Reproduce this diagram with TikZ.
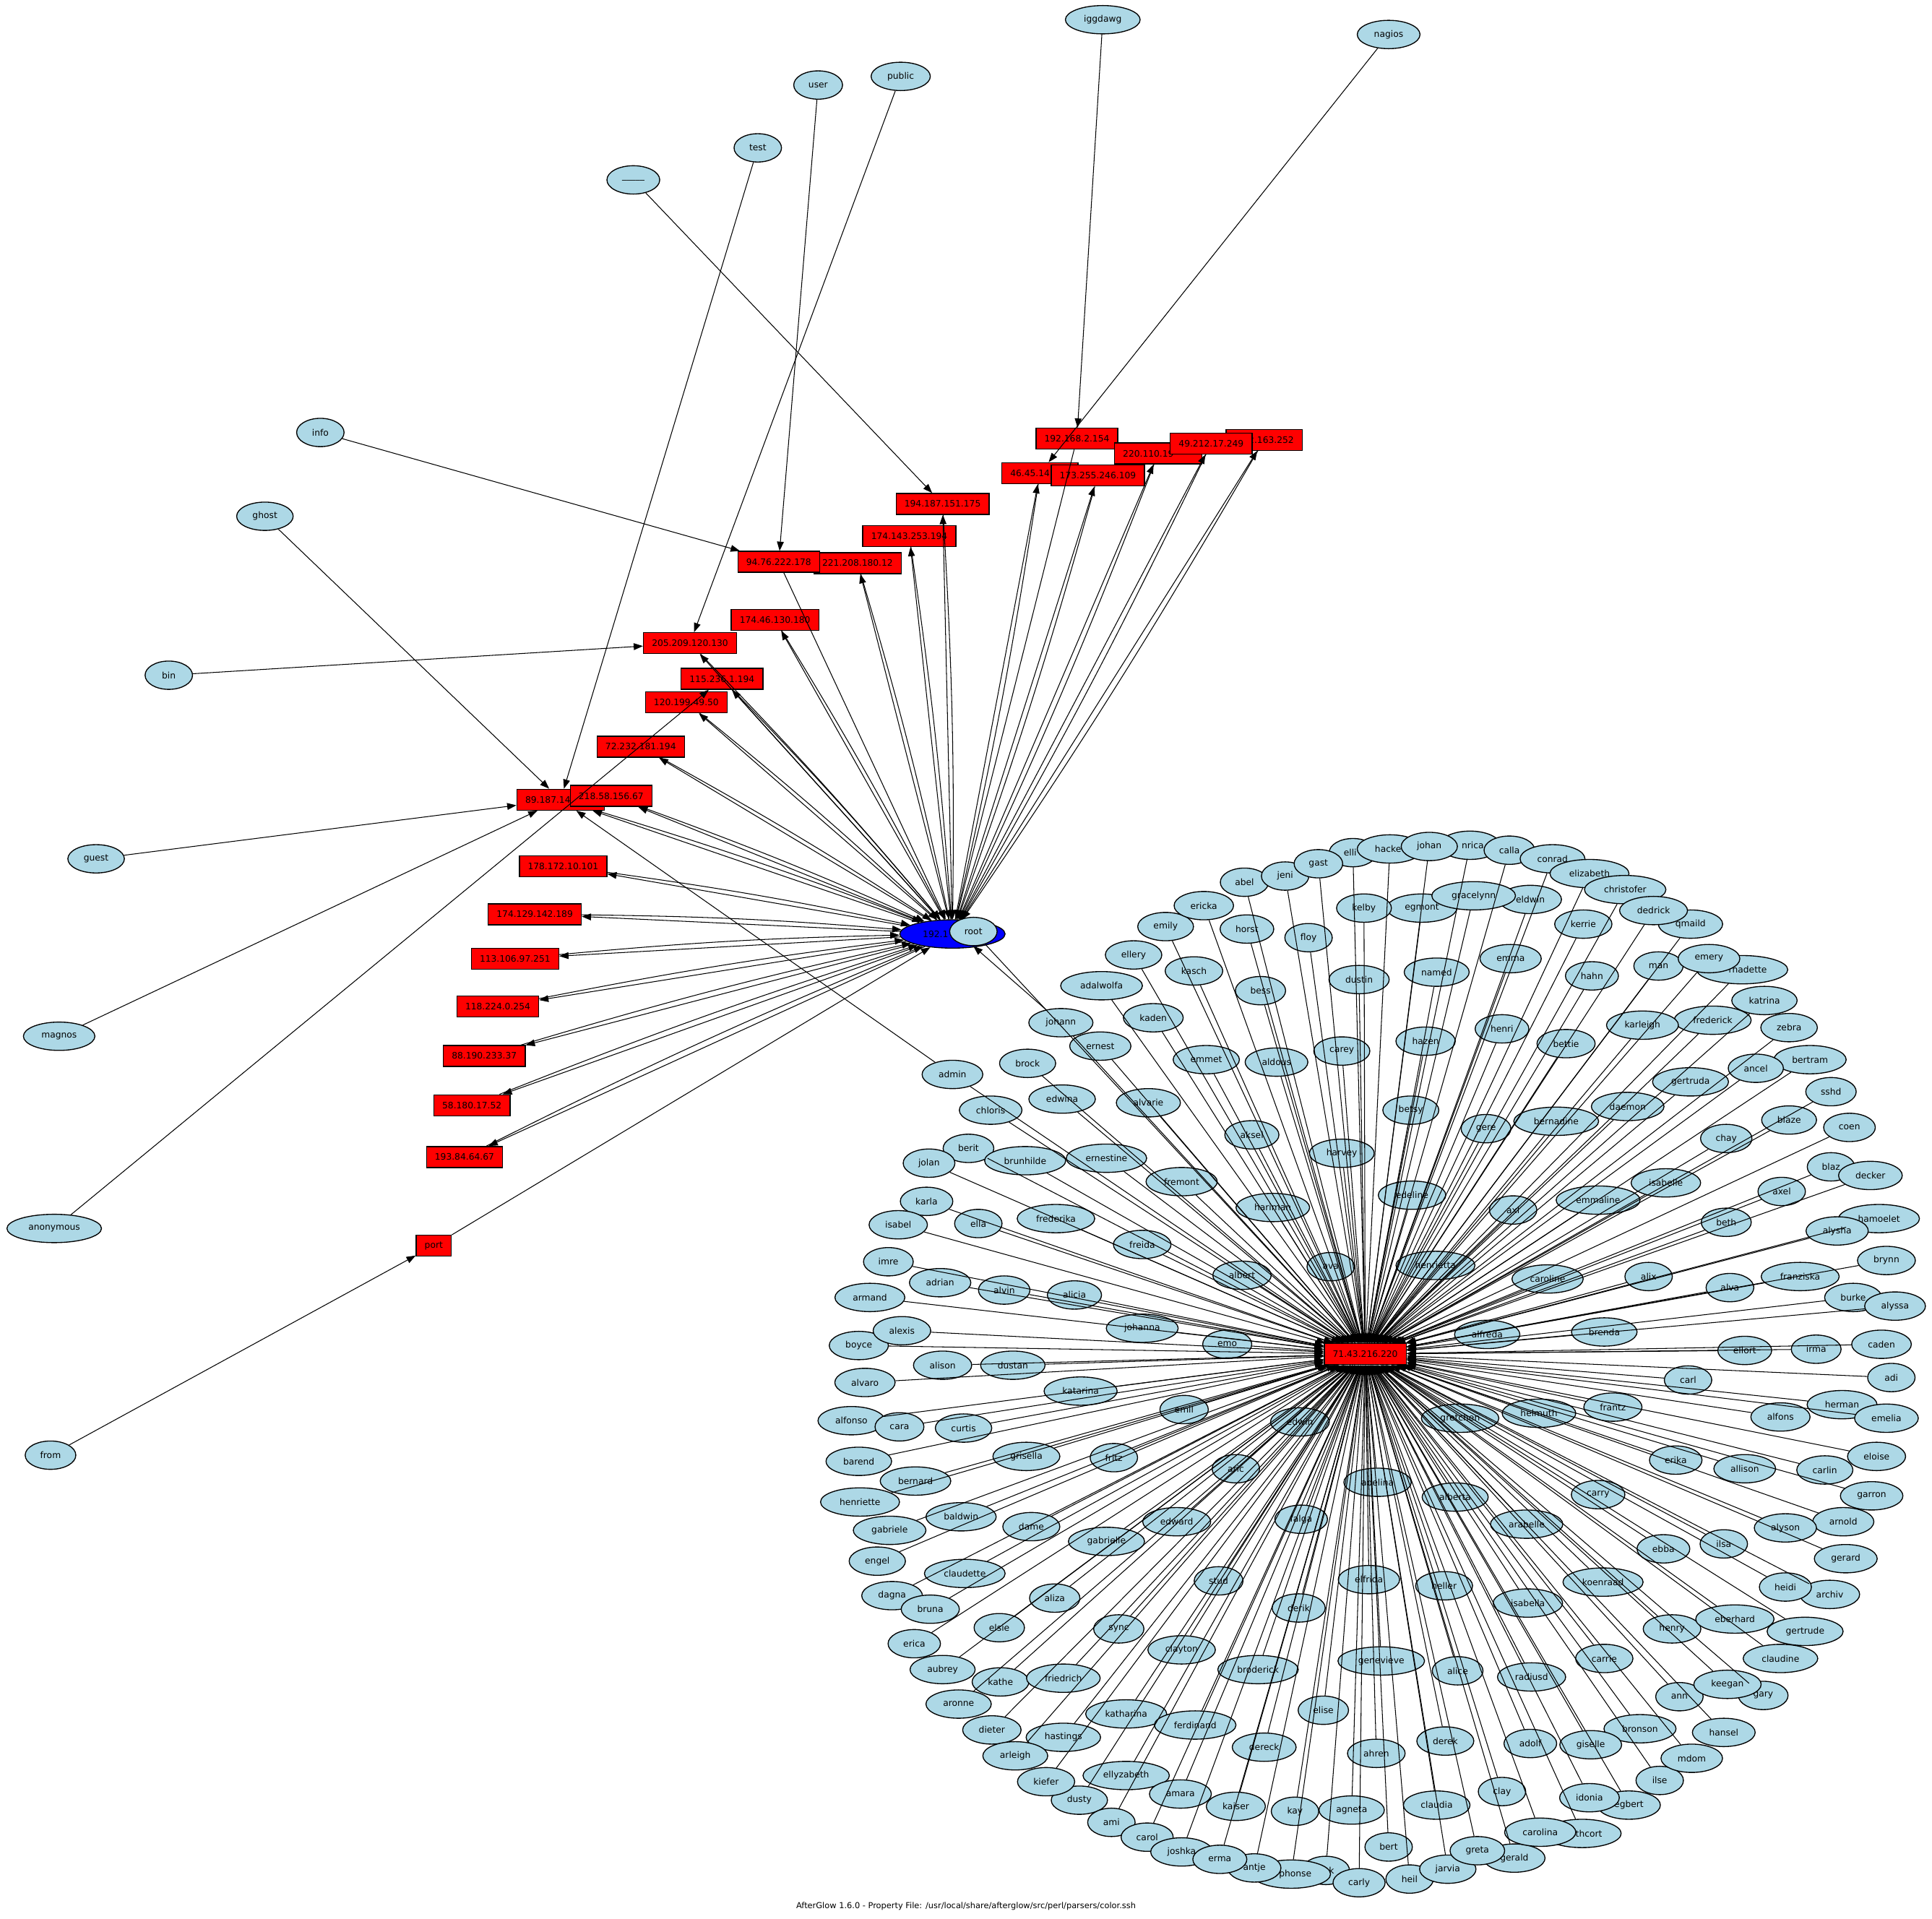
\documentclass[tikz,border=0pt]{standalone}
\usepackage{fontspec}
\setmainfont{DejaVu Sans}
\usepackage{xcolor}
\usepackage{tikz}
\usetikzlibrary{shapes,arrows.meta,positioning}

\definecolor{acctfill}{HTML}{ADD8E6}

\tikzset{
    acct/.style={ellipse, draw, fill=acctfill, line width=0.45pt, minimum width=0.77cm, minimum height=0.46cm,
        inner xsep=3.5pt, inner ysep=0.5pt, font=\fontsize{4.1}{5}\selectfont},
    addr/.style={rectangle, draw, fill=red, line width=0.45pt, minimum height=0.34cm,
        inner xsep=3.9pt, inner ysep=0pt, font=\fontsize{4.1}{5}\selectfont},
    link/.style={line width=0.35pt, -{Triangle[length=0.15cm,width=0.11cm]}}
}

% accounts around the hub: name/x/y
\newcommand{\acctlist}{%
ellery/920/775, emily/946/752, ericka/977/735, abel/1010/716, jeni/1043/711, gast/1070/701,
johan/1160/687, calla/1225/690, conrad/1260/697, elizabeth/1290/709, christofer/1319/722,
qmaild/1372/750, dedrick/1342/739, eldwin/1242/730, egmont/1154/737, gracelynn/1196/727,
kelby/1107/737, horst/1012/754, floy/1062/761, kerrie/1285/750, emma/1226/778,
named/1166/789, dustin/1103/795, kasch/969/788, bess/1023/804, hahn/1292/792, man/1346/784,
emery/1387/778, katrina/1432/812, zebra/1452/834, frederick/1390/828, karleigh/1333/832,
henri/1219/835, hazen/1157/845, bettie/1271/847, carey/1089/853, emmet/979/860,
aldous/1036/862, bertram/1469/860, ancel/1425/867, gertruda/1372/878, sshd/1486/886,
daemon/1321/898, betsy/1145/901, gere/1206/916, bernadine/1263/910, blaze/1452/909,
coen/1501/915, chay/1401/924, aksel/1016/921,
adalwolfa/894/800, kaden/936/826, johann/861/830, ernest/893/849, brock/834/863,
admin/773/872, edwina/862/892, alvarie/932/895, chloris/804/901, berit/786/932,
jolan/754/944, brunhilde/832/942, ernestine/898/940, fremont/959/959, hariman/1033/980,
harvey/1089/936, edeline/1146/970, karla/752/975, isabel/729/994, ella/794/993,
frederika/857/989, freida/927/1010, albert/1008/1035, ava/1080/1028, henrietta/1165/1027,
imre/721/1024, adrian/763/1041, alvin/815/1047, alicia/872/1051, armand/706/1053,
johanna/927/1078, emo/996/1091, boyce/697/1092, alexis/732/1080, alison/765/1108,
dustan/822/1108, alvaro/702/1122, katarina/877/1129, emil/961/1144, edwin/1055/1154,
alfonso/691/1153, cara/730/1158, curtis/782/1159, barend/697/1186, grisella/833/1182,
fritz/904/1183, bernard/743/1202, aric/1003/1192, henriette/698/1219, gabriele/722/1242,
baldwin/780/1231, dame/837/1239, edward/955/1235, gabrielle/898/1251, falga/1056/1233,
engel/712/1267, claudette/783/1277, stud/989/1283, dagna/724/1295, bruna/755/1306,
aliza/856/1297, derik/1054/1305, elsie/811/1321, sync/908/1322, erica/742/1334,
clayton/959/1339, aubrey/765/1355, kathe/812/1365, friedrich/863/1362, broderick/1021/1355,
aronne/778/1383, katharina/914/1391, ferdinand/970/1400, elise/1074/1388, dieter/805/1404,
hastings/863/1410, dereck/1026/1418, arleigh/824/1425, ellyzabeth/914/1441, dusty/876/1461,
kiefer/849/1446, amara/958/1456, kaiser/1003/1466, kay/1051/1470, agneta/1097/1469,
ami/902/1479, carol/931/1491, joshka/959/1503, antje/1018/1516, erma/990/1509,
carly/1103/1528, bert/1127/1499, heil/1144/1525, jarvia/1175/1517, gerald/1229/1508,
greta/1199/1502, claudia/1166/1465, derek/1173/1413, ahren/1117/1423, genevieve/1121/1348,
elfrida/1111/1282, adelina/1118/1203, alice/1183/1356, heller/1172/1287, clay/1219/1454,
carolina/1250/1487, egbert/1322/1465, idonia/1290/1459, bronson/1331/1403, adolf/1242/1415,
giselle/1291/1416, radiusd/1243/1361, isabella/1240/1301, alberta/1181/1215,
arabelle/1239/1237, koenraad/1301/1284, carrie/1302/1346, ilse/1347/1445, mdom/1373/1427,
hansel/1399/1406, ann/1363/1377, gary/1431/1376, keegan/1402/1367, henry/1357/1322,
eberhard/1408/1314, gertrude/1465/1324, claudine/1445/1346, archiv/1485/1294,
heidi/1449/1288, ebba/1350/1257, ilsa/1399/1253, carry/1297/1213, arnold/1496/1235,
alyson/1449/1240, gerard/1498/1265, garron/1519/1214, carlin/1481/1193, allison/1416/1192,
erika/1360/1185, eloise/1523/1182, gretchen/1185/1151, helmuth/1249/1147, frantz/1309/1142,
alfons/1445/1150, herman/1495/1140, emelia/1531/1151, carl/1370/1120, adi/1535/1118,
ellort/1416/1096, irma/1474/1095, caden/1527/1091, alfreda/1207/1083, brenda/1302/1081,
burke/1504/1053, alyssa/1538/1060, alva/1404/1045, franziska/1461/1036, brynn/1531/1023,
alix/1338/1036, caroline/1256/1038, hamoelet/1525/989, alysha/1491/999, beth/1401/992,
axel/1446/967, blaz/1486/947, decker/1518/954, isabelle/1352/960, emmaline/1297/974,
axl/1228/982}

\begin{document}
\begin{tikzpicture}[x=0.02cm, y=-0.02cm]
    \fill[white] (0,0) rectangle (1568,1557);
    \useasboundingbox (0,0) rectangle (1568,1557);

    % outer accounts
    \node[acct] (iggdawg) at (895,16) {iggdawg};
    \node[acct] (nagios) at (1127,28) {nagios};
    \node[acct] (user) at (664,69) {user};
    \node[acct] (public) at (731,62) {public};
    \node[acct] (test) at (615,120) {test};
    \node[acct] (blank) at (514,146) {\_\_\_\_\_};
    \node[acct] (info) at (260,351) {info};
    \node[acct] (ghost) at (215,419) {ghost};
    \node[acct] (bin) at (137,548) {bin};
    \node[acct] (guest) at (78,697) {guest};
    \node[acct] (magnos) at (48,841) {magnos};
    \node[acct] (anonymous) at (44,997) {anonymous};
    \node[acct] (from) at (41,1181) {from};

    % addresses
    \node[addr] (ip192) at (874,356) {192.168.2.154};
    \node[addr] (ip220) at (940,368) {220.110.19\phantom{2.10}};
    \node[addr] (ip2163) at (1026,357) {\phantom{49.}2.163.252};
    \node[addr] (ip49) at (983,360) {49.212.17.249};
    \node[addr] (ip46) at (844,384) {46.45.147\phantom{.12}};
    \node[addr] (ip173) at (891,386) {173.255.246.109};
    \node[addr] (ip194) at (765,409) {194.187.151.175};
    \node[addr] (ip174a) at (738,435) {174.143.253.194};
    \node[addr] (ip221) at (696,457) {221.208.180.12};
    \node[addr] (ip94) at (632,456) {94.76.222.178};
    \node[addr] (ip174b) at (629,503) {174.46.130.180};
    \node[addr] (ip205) at (560,522) {205.209.120.130};
    \node[addr] (ip115) at (586,551) {115.236.1.194};
    \node[addr] (ip120) at (557,570) {120.199.49.50};
    \node[addr] (ip72) at (520,606) {72.232.181.194};
    \node[addr] (ip89) at (455,649) {89.187.14\phantom{2.208}};
    \node[addr] (ip218) at (496,646) {218.58.156.67};
    \node[addr] (ip178) at (457,703) {178.172.10.101};
    \node[addr] (ip174c) at (434,742) {174.129.142.189};
    \node[addr] (ip113) at (418,778) {113.106.97.251};
    \node[addr] (ip118) at (404,817) {118.224.0.254};
    \node[addr] (ip88) at (393,857) {88.190.233.37};
    \node[addr] (ip58) at (383,897) {58.180.17.52};
    \node[addr] (ip193) at (377,939) {193.84.64.67};
    \node[addr] (port) at (352,1011) {port};
    \node[addr] (hub) at (1108,1099) {71.43.216.220};

    % source and root
    \node[acct, fill=blue, minimum width=1.64cm] (blue) at (773,758) {192.1\phantom{68.1.10}};
    \node[acct] (root) at (790,756) {root};

    % partly hidden accounts
    \node[acct] (elli) at (1098,692) {elli\phantom{e}};
    \node[acct, minimum width=1.06cm] (hacker) at (1128,689) {hacke\phantom{r}};
    \node[acct] (enrica) at (1193,686) {\phantom{e}nrica};
    \node[acct] (bernadette) at (1414,787) {\phantom{be}rnadette};
    \node[acct] (erik) at (1076,1518) {\phantom{eri}k};
    \node[acct] (alphonse) at (1048,1521) {\phantom{al}phonse};
    \node[acct] (bethcort) at (1284,1488) {\phantom{bl}ethcort};

    \foreach \n/\x/\y in \acctlist {
        \node[acct] (\n) at (\x,\y) {\n};
    }

    % edges into the hub
    \foreach \n/\x/\y in \acctlist {
        \draw[link] (\n) -- (hub);
    }
    \foreach \n in {elli,hacker,enrica,bernadette,erik,alphonse,bethcort} {
        \draw[link] (\n) -- (hub);
    }
    \draw[link] (root) -- (hub);
    \draw[link] (johann) -- (root.south);

    % source fan
    \foreach \t in {ip46,ip173,ip220,ip49,ip2163,ip194,ip174a,ip221,ip174b,ip205,ip115,ip120,
        ip72,ip89,ip218,ip178,ip174c,ip113,ip118,ip88,ip58,ip193} {
        \draw[link] (blue) -- (\t);
        \draw[link] (\t) to[bend left=2] (blue);
    }
    \draw[link] (ip192) -- (blue);
    \draw[link] (ip94) -- (blue);
    \draw[link] (port) -- (blue);

    % outer accounts to addresses
    \draw[link] (iggdawg) -- (ip192);
    \draw[link] (nagios) -- (ip46);
    \draw[link] (user) -- (ip94);
    \draw[link] (info) -- (ip94);
    \draw[link] (public) -- (ip205);
    \draw[link] (bin) -- (ip205);
    \draw[link] (blank) -- (ip194);
    \draw[link] (test) -- (ip89);
    \draw[link] (ghost) -- (ip89);
    \draw[link] (guest) -- (ip89);
    \draw[link] (magnos) -- (ip89);
    \draw[link] (admin) -- (ip89);
    \draw[link] (anonymous) -- (ip115);
    \draw[link] (from) -- (port);

    \node[font=\fontsize{3.8}{4.6}\selectfont] (footer) at (784,1547)
        {AfterGlow 1.6.0 - Property File: /usr/local/share/afterglow/src/perl/parsers/color.ssh};
\end{tikzpicture}
\end{document}
